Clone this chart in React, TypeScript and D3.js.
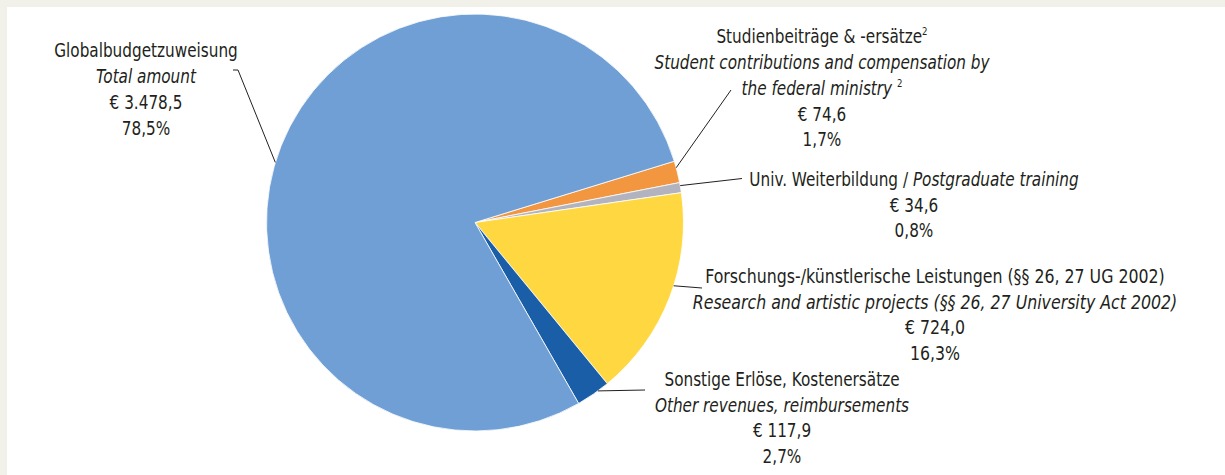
import React from "react";
import * as d3 from "d3";

const categories = ["Studienbeiträge", "Weiterbildung", "Forschung", "Sonstige", "Globalbudget"];
const values = [74.6, 34.6, 724.0, 117.9, 3478.5];
const colors = ["#f39640", "#b3b3bf", "#ffd740", "#1a5ea8", "#6f9fd4"];

type Line = { text: string; italic?: boolean; sup?: string; tail?: string };

const labelLines: Line[][] = [
  [
    { text: "Studienbeiträge & -ersätze", sup: "2" },
    { text: "Student contributions and compensation by", italic: true },
    { text: "the federal ministry ", italic: true, sup: "2" },
    { text: "€ 74,6" },
    { text: "1,7%" },
  ],
  [
    { text: "Univ. Weiterbildung / ", tail: "Postgraduate training" },
    { text: "€ 34,6" },
    { text: "0,8%" },
  ],
  [
    { text: "Forschungs-/künstlerische Leistungen (§§ 26, 27 UG 2002)" },
    { text: "Research and artistic projects (§§ 26, 27 University Act 2002)", italic: true },
    { text: "€ 724,0" },
    { text: "16,3%" },
  ],
  [
    { text: "Sonstige Erlöse, Kostenersätze" },
    { text: "Other revenues, reimbursements", italic: true },
    { text: "€ 117,9" },
    { text: "2,7%" },
  ],
  [
    { text: "Globalbudgetzuweisung" },
    { text: "Total amount", italic: true },
    { text: "€ 3.478,5" },
    { text: "78,5%" },
  ],
];

// layout (positions of label blocks and leader elbows)
const W = 1225;
const H = 475;
const CX = 475;
const CY = 222.5;
const R = 208.5;
const START = (72.9 * Math.PI) / 180;
const LINE_H = 25.7;
const FS = 19.5;
const layout = [
  { x: 822, y: 43.5, sx: 0.87, frac: 0.31, pts: [[731, 90]] },
  { x: 914, y: 186, sx: 0.87, frac: 0.3, pts: [[742, 178.5]] },
  { x: 935, y: 283, sx: 0.9, frac: 0.44, pts: [[702, 288]] },
  { x: 782, y: 386, sx: 0.87, frac: 0.34, pts: [[645, 390]] },
  { x: 146, y: 57.5, sx: 0.87, frac: 0.483, pts: [[238, 70], [233, 70]] },
];

const FONT = "'DejaVu Sans Condensed', 'Liberation Sans Narrow', Roboto, sans-serif";

export default function App() {
  const pie = d3
    .pie<number>()
    .sort(null)
    .value((d) => d)
    .startAngle(START)
    .endAngle(START + 2 * Math.PI);
  const arcs = pie(values);
  const arc = d3.arc<d3.PieArcDatum<number>>().innerRadius(0).outerRadius(R);
  const line = d3.line();

  return (
    <div style={{ position: "fixed", left: 0, top: 0, width: W, height: H }}>
      <svg width={W} height={H} style={{ display: "block" }}>
        <rect x={0} y={0} width={W} height={H} fill="#f1f0e9" />
        <rect x={7} y={7} width={W - 7} height={H - 7} fill="#ffffff" />
        <g transform={`translate(${CX},${CY})`}>
          {arcs.map((a, i) => (
            <path key={categories[i]} d={arc(a) || ""} fill={colors[i]} stroke="#ffffff" strokeWidth={0.8} />
          ))}
        </g>
        {arcs.map((a, i) => {
          const L = layout[i];
          const ang = a.startAngle + L.frac * (a.endAngle - a.startAngle);
          const p0: [number, number] = [CX + R * Math.sin(ang), CY - R * Math.cos(ang)];
          const pts = [p0, ...(L.pts as [number, number][])];
          return <path key={"l" + i} d={line(pts) || ""} fill="none" stroke="#231f20" strokeWidth={1} />;
        })}
        {labelLines.map((lines, i) => {
          const L = layout[i];
          return (
            <g key={"t" + i} transform={`translate(${L.x},0) scale(${L.sx},1)`}>
              <text fontFamily={FONT} fontSize={FS} fill="#231f20" textAnchor="middle">
                {lines.map((ln, j) => (
                  <tspan key={j} x={0} y={L.y + j * LINE_H} fontStyle={ln.italic ? "italic" : "normal"}>
                    {ln.text}
                    {ln.tail ? <tspan fontStyle="italic">{ln.tail}</tspan> : null}
                    {ln.sup ? (
                      <tspan fontSize={11} fontStyle="normal" dy={-8}>
                        {ln.sup}
                      </tspan>
                    ) : null}
                  </tspan>
                ))}
              </text>
            </g>
          );
        })}
      </svg>
    </div>
  );
}
